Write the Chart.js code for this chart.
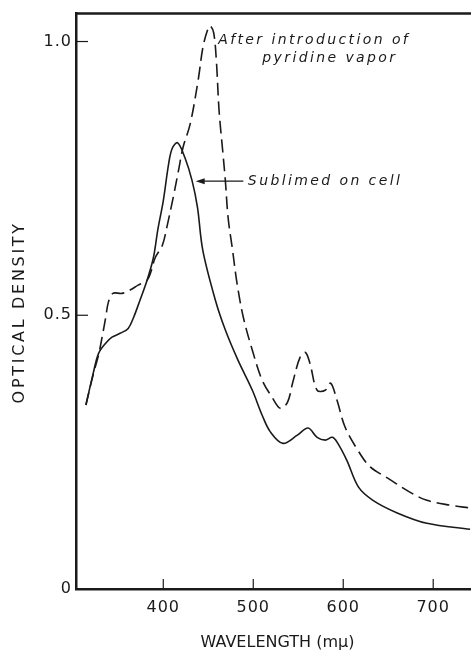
<!DOCTYPE html>
<html>
<head>
<meta charset="utf-8">
<script src="https://cdn.jsdelivr.net/npm/chart.js@4.4.1/dist/chart.umd.min.js"></script>
<style>
    html, body { margin: 0; padding: 0; background: #fff; }
</style>
</head>
<body>
<canvas id="chart" width="471" height="652"></canvas>
<script>
// solid curve: film sublimed on the cell
const sublimedWavelength = [314, 322, 328, 336, 343, 352, 361, 367, 374, 382, 389, 394, 400, 406, 410, 416, 424, 432, 438, 444, 458, 469, 483, 499, 510, 519, 533, 549, 561, 571, 580, 588, 594, 604, 617, 633, 660, 693, 741];
const sublimedDensity = [0.336, 0.393, 0.430, 0.449, 0.460, 0.467, 0.476, 0.496, 0.527, 0.564, 0.605, 0.657, 0.709, 0.777, 0.805, 0.815, 0.788, 0.746, 0.697, 0.618, 0.527, 0.473, 0.418, 0.363, 0.317, 0.287, 0.266, 0.281, 0.294, 0.277, 0.272, 0.277, 0.266, 0.235, 0.186, 0.162, 0.139, 0.120, 0.109];

// dashed curve: after introduction of pyridine vapor
const pyridineWavelength = [314, 322, 328, 332, 336, 339, 344, 354, 363, 372, 382, 386, 391, 399, 404, 411, 417, 422, 430, 439, 444, 449, 452, 456, 459, 462, 466, 469, 472, 477, 482, 489, 499, 510, 521, 530, 538, 544, 552, 558, 563, 571, 580, 586, 593, 602, 616, 630, 649, 674, 693, 719, 741];
const pyridineDensity = [0.336, 0.391, 0.427, 0.460, 0.496, 0.524, 0.540, 0.540, 0.546, 0.555, 0.564, 0.578, 0.605, 0.628, 0.661, 0.715, 0.765, 0.807, 0.850, 0.932, 0.989, 1.020, 1.029, 1.016, 0.965, 0.874, 0.801, 0.746, 0.679, 0.619, 0.558, 0.496, 0.436, 0.381, 0.350, 0.330, 0.341, 0.378, 0.423, 0.432, 0.412, 0.363, 0.363, 0.376, 0.345, 0.296, 0.254, 0.223, 0.203, 0.177, 0.162, 0.153, 0.148];

const xTicks = [400, 500, 600, 700];
const yTicks = [0, 0.5, 1.0];

const INK = '#1a1a1a';
const FONT = '"DejaVu Sans", sans-serif';

const toPoints = (xs, ys) => xs.map((x, i) => ({ x: x, y: ys[i] }));

// frame top, inward tick marks, labels on the curves, axis titles
const figureExtras = {
    id: 'figureExtras',
    beforeDraw (chart) {
        chart.ctx.letterSpacing = '1px';
    },
    afterDraw (chart) {
        const { ctx, chartArea, scales: { x, y } } = chart;
        ctx.save();
        ctx.strokeStyle = INK;
        ctx.fillStyle = INK;

        ctx.lineWidth = 2.5;
        ctx.beginPath();
        ctx.moveTo(chartArea.left - 1, chartArea.top);
        ctx.lineTo(chartArea.right, chartArea.top);
        ctx.stroke();

        ctx.lineWidth = 1.2;
        xTicks.forEach((v) => {
            const px = x.getPixelForValue(v);
            ctx.beginPath();
            ctx.moveTo(px, chartArea.bottom);
            ctx.lineTo(px, chartArea.bottom - 10);
            ctx.stroke();
        });
        yTicks.filter((v) => v > 0).forEach((v) => {
            const py = y.getPixelForValue(v);
            ctx.beginPath();
            ctx.moveTo(chartArea.left, py);
            ctx.lineTo(chartArea.left + 12, py);
            ctx.stroke();
        });

        ctx.font = 'italic 14px ' + FONT;
        ctx.letterSpacing = '2.4px';
        ctx.textAlign = 'left';
        ctx.textBaseline = 'middle';
        ctx.fillText('After introduction of', x.getPixelForValue(461), y.getPixelForValue(1.002));
        ctx.fillText('pyridine vapor', x.getPixelForValue(510), y.getPixelForValue(0.969));
        ctx.fillText('Sublimed on cell', x.getPixelForValue(494), y.getPixelForValue(0.745));

        // arrow pointing at the solid curve
        const ay = y.getPixelForValue(0.745);
        const tip = x.getPixelForValue(436);
        ctx.lineWidth = 1.2;
        ctx.beginPath();
        ctx.moveTo(x.getPixelForValue(489), ay);
        ctx.lineTo(tip + 6, ay);
        ctx.stroke();
        ctx.beginPath();
        ctx.moveTo(tip, ay);
        ctx.lineTo(tip + 9, ay - 3);
        ctx.lineTo(tip + 9, ay + 3);
        ctx.closePath();
        ctx.fill();

        ctx.font = '16px ' + FONT;
        ctx.textAlign = 'center';
        ctx.letterSpacing = '2.7px';
        ctx.save();
        ctx.translate(20, (chartArea.top + chartArea.bottom) / 2 + 11);
        ctx.rotate(-Math.PI / 2);
        ctx.fillText('OPTICAL DENSITY', 0, 0);
        ctx.restore();
        ctx.letterSpacing = '0px';
        ctx.fillText('WAVELENGTH (mμ)', (chartArea.left + chartArea.right) / 2 + 4, chart.height - 9);

        ctx.restore();
    }
};

const chart = new Chart(document.getElementById('chart'), {
    type: 'line',
    data: {
        datasets: [{
            label: 'Sublimed on cell',
            data: toPoints(sublimedWavelength, sublimedDensity),
            borderColor: INK,
            borderWidth: 1.6,
            pointRadius: 0,
            tension: 0.35,
            fill: false
        }, {
            label: 'After introduction of pyridine vapor',
            data: toPoints(pyridineWavelength, pyridineDensity),
            borderColor: INK,
            borderWidth: 1.6,
            borderDash: [13, 6],
            pointRadius: 0,
            tension: 0.35,
            fill: false
        }]
    },
    options: {
        responsive: false,
        animation: false,
        devicePixelRatio: 1,
        layout: { padding: { top: 13, left: 0, right: 0, bottom: 0 } },
        plugins: {
            legend: { display: false },
            tooltip: { enabled: false }
        },
        scales: {
            x: {
                type: 'linear',
                min: 303,
                max: 742,
                afterBuildTicks: (scale) => { scale.ticks = xTicks.map((v) => ({ value: v })); },
                afterFit: (scale) => { scale.height = 63; },
                grid: { drawOnChartArea: false, drawTicks: false },
                border: { color: INK, width: 2.5 },
                ticks: {
                    color: INK,
                    padding: 9,
                    font: { family: FONT, size: 16 },
                    callback: (v) => String(v)
                }
            },
            y: {
                type: 'linear',
                min: 0,
                max: 1.051,
                afterBuildTicks: (scale) => { scale.ticks = yTicks.map((v) => ({ value: v })); },
                afterFit: (scale) => { scale.width = 76; },
                grid: { drawOnChartArea: false, drawTicks: false },
                border: { color: INK, width: 2.5 },
                ticks: {
                    color: INK,
                    padding: 4,
                    font: { family: FONT, size: 16 },
                    callback: (v) => (v === 0 ? '0' : v.toFixed(1))
                }
            }
        }
    },
    plugins: [figureExtras]
});
</script>
</body>
</html>
